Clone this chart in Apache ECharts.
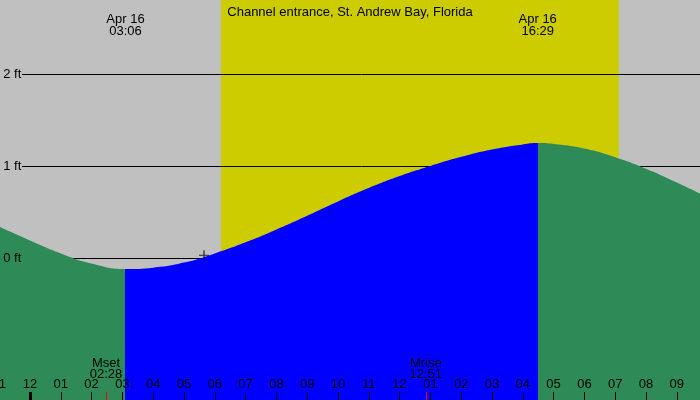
<!DOCTYPE html>
<html><head><meta charset="utf-8">
<script src="https://cdn.jsdelivr.net/npm/echarts@6/dist/echarts.min.js"></script>
<style>html,body{margin:0;padding:0;background:#c0c0c0}#c{width:700px;height:400px}</style>
</head><body><div id="c"></div>
<script>
// ---- data ----
const chartTitle = 'Channel entrance, St. Andrew Bay, Florida';
const tideHours = [-1, 0, 1, 2, 3.1, 4, 5, 6, 7, 8, 9, 10, 11, 12, 13, 14, 15, 16, 16.48, 17, 18, 19, 20, 21, 22];
const tideFeet  = [0.34, 0.19, 0.05, -0.06, -0.12, -0.105, -0.05, 0.05, 0.17, 0.31, 0.46, 0.615, 0.76, 0.89, 1.00, 1.10, 1.18, 1.235, 1.25, 1.24, 1.19, 1.095, 0.97, 0.82, 0.66];
const eventDate = 'Apr 16';
const lowTideTime = '03:06';
const highTideTime = '16:29';
const sunriseTime = '06:12';
const sunsetTime = '19:07';
const moonEventNames = ['Mset', 'Mrise'];
const moonEventTimes = ['02:28', '12:51'];
const nowTime = '05:39';
const nowFeet = 0.03;
const gridFeet = [0, 1, 2];
const hourMin = -1, hourMax = 22;

// ---- layout / style ----
const FONT = "'Liberation Sans', Arial, sans-serif";
const FS = 13;
const W = 700, H = 400;
const PX_PER_HOUR = 30.8, X_ZERO = 30;
const PX_PER_FOOT = 92, Y_ZERO = 258;
const FT_MIN = -2, FT_MAX = 3;
const GRAY = '#c0c0c0', YELLOW = '#cccc00', GREEN = '#2e8b57', BLUE = '#0000ff';

const toH = s => { const [h, m] = s.split(':').map(Number); return h + m / 60; };
const pxToHour = px => (px - X_ZERO) / PX_PER_HOUR;
const pxToFeet = py => (Y_ZERO - py) / PX_PER_FOOT;

const lowH = toH(lowTideTime), highH = toH(highTideTime);
const tideData = tideHours.map((h, i) => [h, tideFeet[i]]);
const tickBottom = pxToFeet(H), tickTop = pxToFeet(H - 8);
const lineStart = pxToHour(22);
const gridTop = Y_ZERO - FT_MAX * PX_PER_FOOT;
const gridHeight = (FT_MAX - FT_MIN) * PX_PER_FOOT;
const axisOffset = H - (gridTop + gridHeight); // negative: pull axis up to the canvas bottom

const chart = echarts.init(document.getElementById('c'), null, {renderer: 'canvas'});
chart.setOption({
  animation: false,
  backgroundColor: GRAY,
  textStyle: {fontFamily: FONT},
  title: {
    text: chartTitle, left: 'center', top: 1,
    textStyle: {fontFamily: FONT, fontSize: FS, fontWeight: 'normal', color: '#000'}
  },
  grid: {
    left: X_ZERO + hourMin * PX_PER_HOUR,
    width: (hourMax - hourMin) * PX_PER_HOUR,
    top: gridTop,
    height: gridHeight,
    containLabel: false,
    outerBoundsMode: 'none'
  },
  xAxis: {
    type: 'value', min: hourMin, max: hourMax, interval: 1, z: 3,
    offset: axisOffset,
    axisLine: {show: false, onZero: false},
    splitLine: {show: false},
    axisTick: {show: true, inside: true, length: 8, lineStyle: {color: '#000', width: 1}},
    axisLabel: {
      inside: true, margin: 9, color: '#000', fontFamily: FONT, fontSize: FS,
      showMinLabel: true, showMaxLabel: true,
      formatter: v => { const hh = ((v % 12) + 12) % 12; return String(hh === 0 ? 12 : hh).padStart(2, '0'); }
    }
  },
  yAxis: {
    type: 'value', min: FT_MIN, max: FT_MAX, interval: 1, z: 3,
    axisLine: {show: false, onZero: false}, axisTick: {show: false}, splitLine: {show: false},
    axisLabel: {
      inside: true, margin: 4, color: '#000', fontFamily: FONT, fontSize: FS,
      formatter: v => gridFeet.includes(v) ? v + ' ft' : ''
    }
  },
  visualMap: {
    type: 'piecewise', show: false, dimension: 0, seriesIndex: 1,
    pieces: [
      {lt: lowH, color: GREEN},
      {gte: lowH, lte: highH, color: BLUE},
      {gt: highH, color: GREEN}
    ]
  },
  series: [
    {
      type: 'line', name: 'bg', data: [], silent: true, z: 0,
      markArea: {
        silent: true, z: 0,
        itemStyle: {color: YELLOW, opacity: 1},
        data: [[{xAxis: toH(sunriseTime)}, {xAxis: toH(sunsetTime)}]]
      },
      markLine: {
        silent: true, z: 1, symbol: ['none', 'none'],
        lineStyle: {color: '#000', width: 1, type: 'solid'},
        label: {show: false},
        data: gridFeet.map(f => [{coord: [lineStart, f]}, {coord: [hourMax, f]}])
      }
    },
    {
      type: 'line', name: 'tide', data: tideData, smooth: true, z: 2,
      showSymbol: false, symbol: 'none',
      lineStyle: {width: 0},
      areaStyle: {opacity: 1, origin: 'start'}
    },
    {
      type: 'line', name: 'marks', data: [], silent: true, z: 4,
      markLine: {
        silent: true, z: 4, symbol: ['none', 'none'],
        data: [
          [{coord: [0, tickBottom], lineStyle: {color: '#000', width: 3, type: 'solid'}, label: {show: false}},
           {coord: [0, tickTop]}]
        ].concat(moonEventTimes.map((t, i) => [
          {coord: [toH(t), tickBottom], lineStyle: {color: '#ff0000', width: 1, type: 'solid'},
           label: {show: true, position: 'end', distance: 12, formatter: moonEventNames[i] + '\n' + t,
                   color: '#000', fontFamily: FONT, fontSize: FS, lineHeight: 11}},
          {coord: [toH(t), tickTop]}
        ]))
      },
      markPoint: {
        silent: true, z: 5, symbol: 'circle', symbolSize: 0,
        label: {show: true, position: 'inside', color: '#000', fontFamily: FONT, fontSize: FS, lineHeight: 12},
        data: [lowTideTime, highTideTime].map(t => ({
          coord: [toH(t), pxToFeet(25)],
          label: {formatter: eventDate + '\n' + t}
        }))
      }
    },
    {
      type: 'scatter', name: 'now', z: 5, silent: true,
      data: [[toH(nowTime), nowFeet]],
      symbol: 'path://M5,0L5,10M0,5L10,5', symbolSize: 10,
      itemStyle: {color: 'none', borderColor: '#000', borderWidth: 1.2}
    }
  ]
});
</script>
</body></html>
